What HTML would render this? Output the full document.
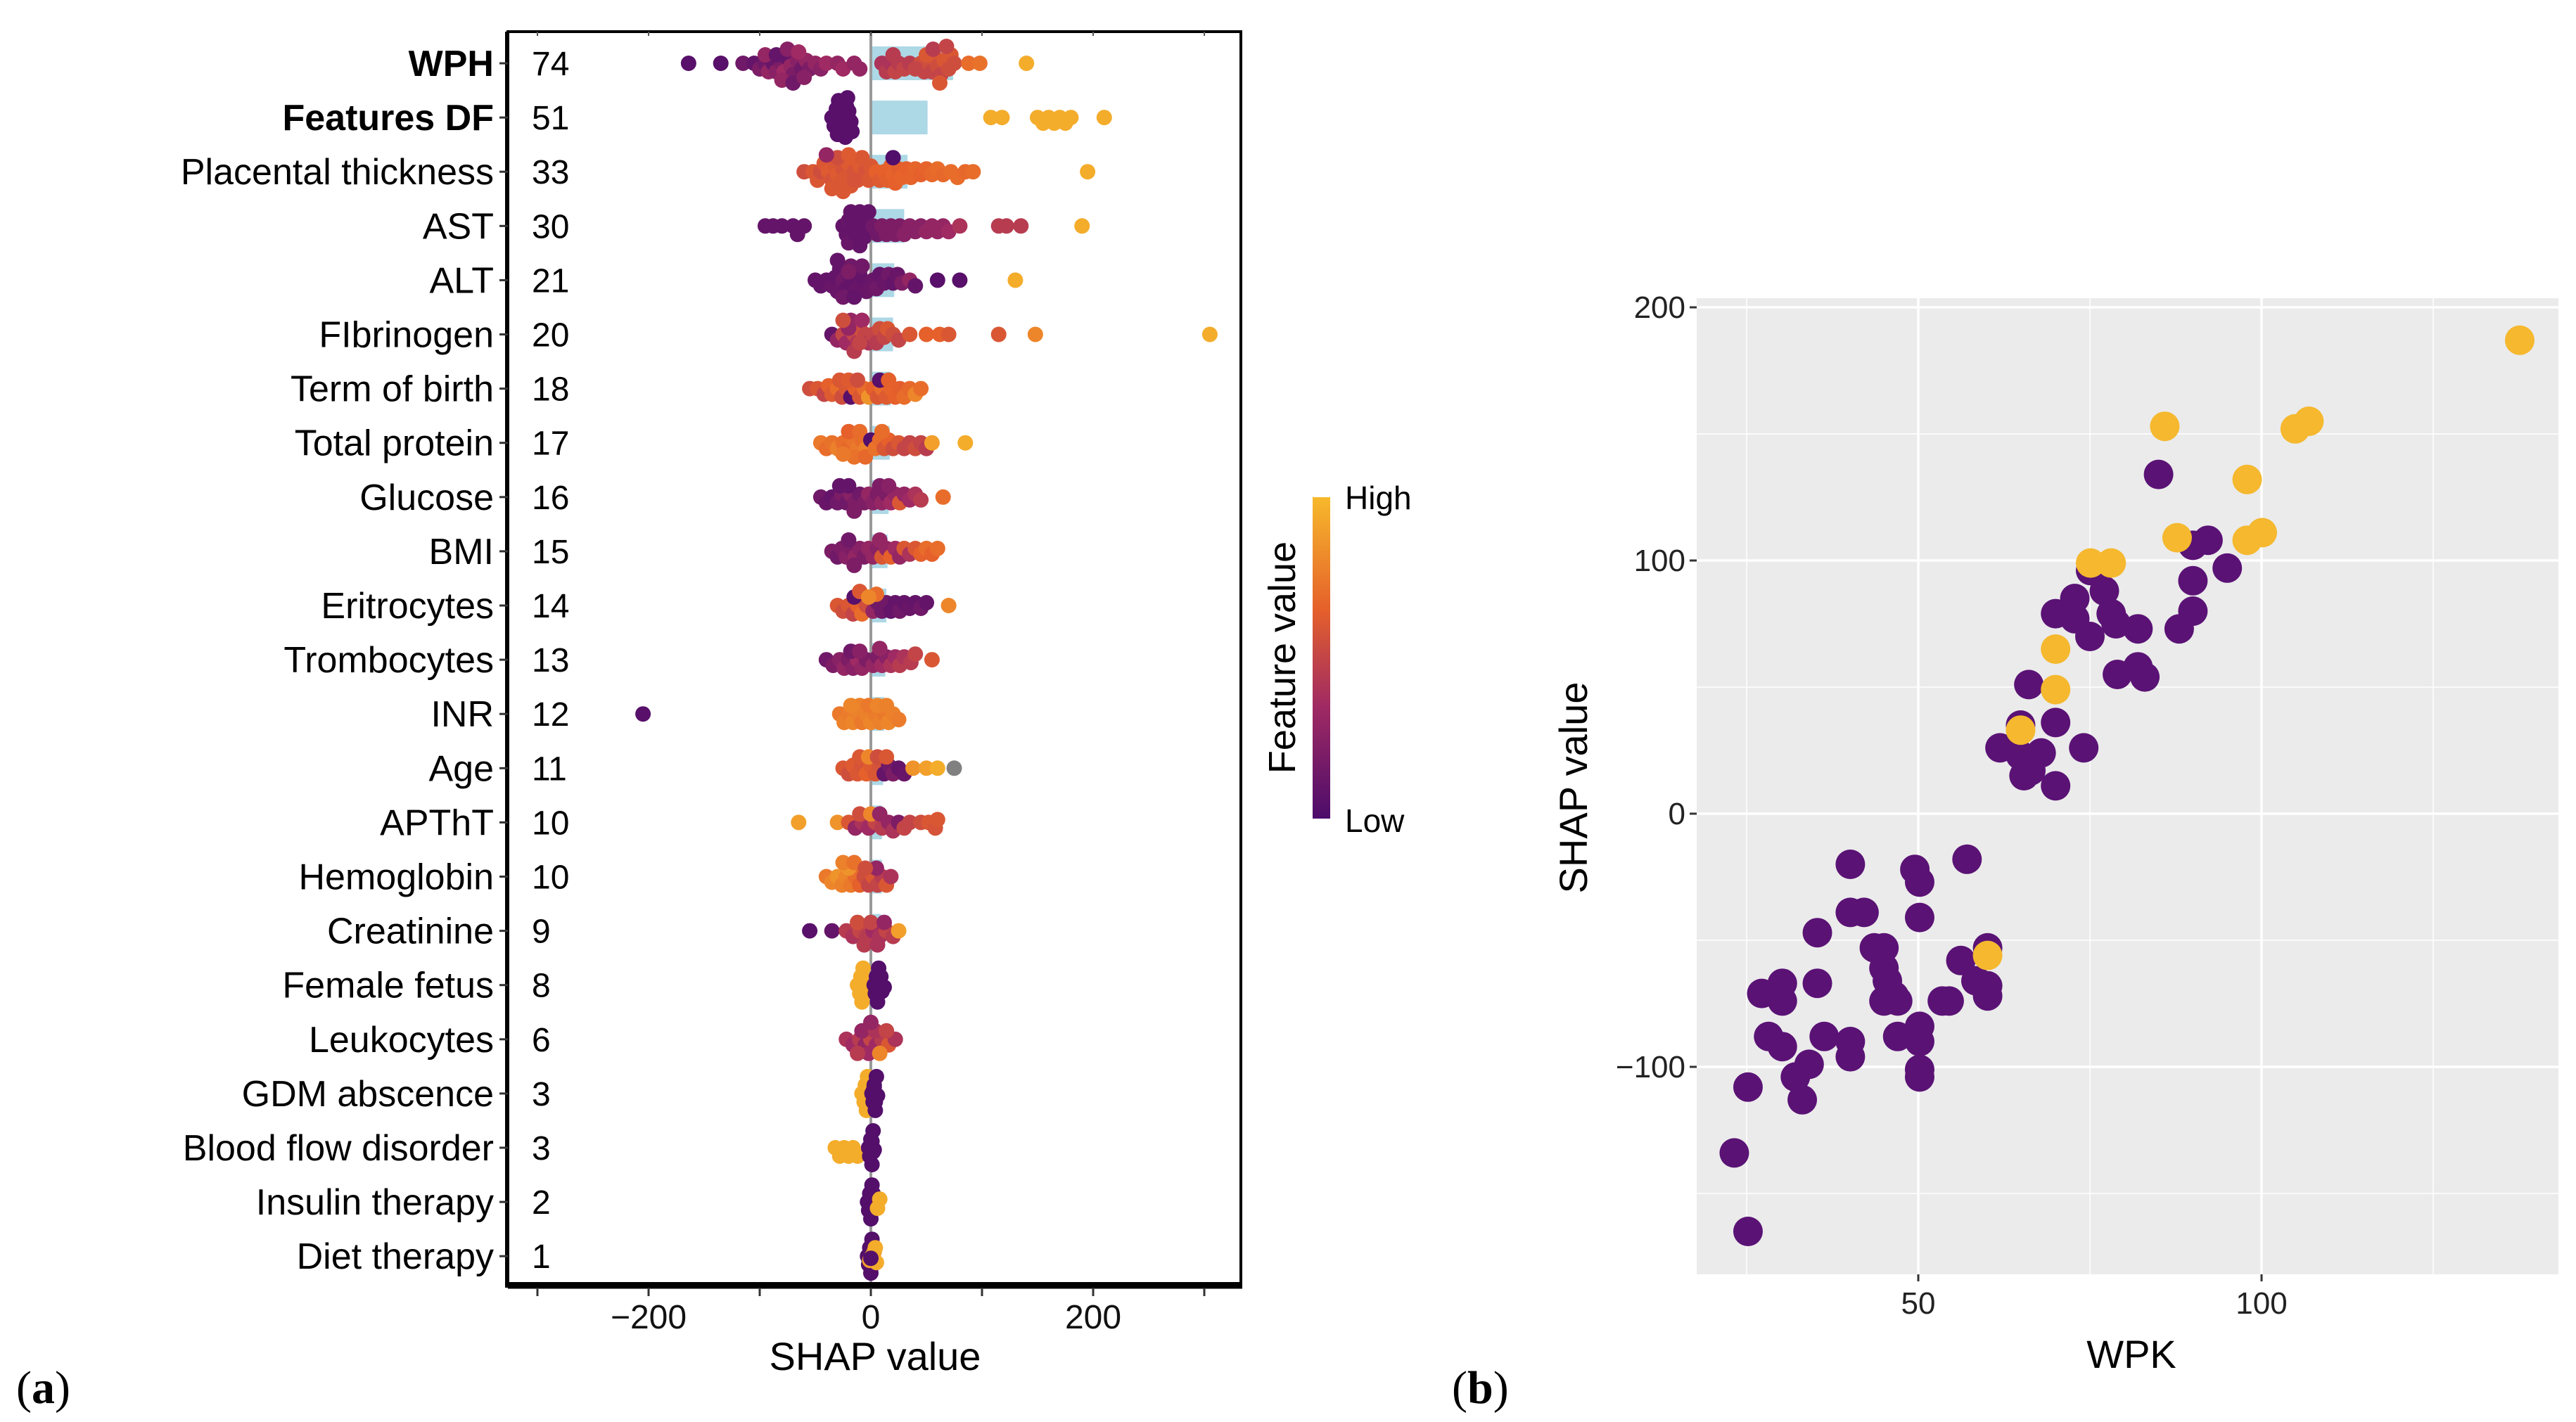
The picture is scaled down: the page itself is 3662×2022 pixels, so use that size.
<!DOCTYPE html>
<html><head><meta charset="utf-8">
<style>
html,body{margin:0;padding:0;background:#fff;}
svg{display:block;font-family:"Liberation Sans",Arial,sans-serif;}
</style></head>
<body>
<svg id="fig" width="3662" height="2022" viewBox="0 0 3662 2022" xmlns="http://www.w3.org/2000/svg">
<defs>
<linearGradient id="cbar" x1="0" y1="1" x2="0" y2="0">
<stop offset="0" stop-color="#4c0c6b"/><stop offset="0.35" stop-color="#a02a63"/>
<stop offset="0.65" stop-color="#e5602b"/><stop offset="1" stop-color="#f7b92b"/>
</linearGradient>
</defs>
<g id="left"></g>
<g id="right"></g>
<text x="23" y="1995" font-family="Liberation Serif, serif" font-size="66">(<tspan font-weight="bold">a</tspan>)</text>
<text x="2064" y="1995" font-family="Liberation Serif, serif" font-size="66">(<tspan font-weight="bold">b</tspan>)</text>
</svg>
<script>
// ---------- Left panel data ----------
const features = ["WPH","Features DF","Placental thickness","AST","ALT","FIbrinogen","Term of birth","Total protein","Glucose","BMI","Eritrocytes","Trombocytes","INR","Age","APThT","Hemoglobin","Creatinine","Female fetus","Leukocytes","GDM abscence","Blood flow disorder","Insulin therapy","Diet therapy"];
const importance = [74,51,33,30,21,20,18,17,16,15,14,13,12,11,10,10,9,8,6,3,3,2,1];
const boldRows = [0,1];
// each row: shap values and matching feature values (0 low .. 1 high, -1 = missing)
const shapVals = [
 [-164,-135,-115,-105,-100,-95,-92,-88,-85,-80,-78,-75,-72,-70,-66,-62,-58,-55,-50,-45,-40,-30,-25,-15,-10,-95,-85,-75,-65,-80,-70,-60,10,14,18,22,25,30,35,45,48,52,55,58,60,63,66,70,72,75,50,56,62,68,40,20,88,98,140],
 [-35,-33,-31,-30,-29,-28,-27,-26,-25,-24,-23,-22,-21,-20,-19,-18,-17,-30,-26,-22,-28,-24,-20,108,118,150,155,160,165,170,175,180,210],
 [-60,-52,-48,-45,-42,-38,-35,-32,-30,-28,-25,-22,-20,-18,-15,-12,-10,-8,-5,-2,-30,-25,-20,-15,-35,-40,0,5,8,12,15,18,20,22,25,28,32,36,40,45,50,55,60,65,72,78,85,92,20,195],
 [-95,-88,-80,-70,-66,-60,-25,-22,-20,-18,-16,-14,-12,-10,-8,-6,-4,-2,-20,-15,-10,-12,-18,-5,2,6,10,14,18,22,26,30,35,40,45,50,55,60,65,70,80,115,122,135,190],
 [-50,-45,-40,-35,-32,-30,-28,-25,-22,-20,-18,-15,-12,-10,-8,-6,-4,-25,-20,-15,-30,2,5,8,12,16,20,24,28,35,40,60,80,130],
 [-35,-30,-25,-22,-20,-18,-15,-12,-10,-8,-5,-2,-15,-20,-10,-25,2,5,8,12,15,20,25,35,50,62,70,115,148,305],
 [-55,-48,-42,-38,-35,-30,-26,-22,-18,-14,-10,-6,-2,-28,-20,-12,2,6,10,14,18,22,26,30,35,40,45,8,16],
 [-45,-40,-35,-30,-25,-20,-16,-12,-8,-4,-20,-15,-10,-25,-5,0,4,8,12,16,20,25,30,35,40,45,50,10,55,85],
 [-45,-40,-35,-30,-26,-22,-18,-14,-10,-6,-2,-20,-15,-28,2,6,10,14,18,22,26,30,35,40,45,8,16,65],
 [-35,-30,-26,-22,-18,-14,-10,-6,-2,-20,-15,2,6,10,14,18,22,26,30,35,40,45,50,55,60,8],
 [-30,-25,-20,-16,-12,-8,-4,-15,-10,2,6,10,14,18,22,26,30,35,40,45,50,5,-2,70],
 [-40,-34,-28,-24,-20,-16,-12,-8,-4,-18,-10,2,6,10,14,18,22,26,30,36,40,8,55],
 [-205,-28,-24,-20,-16,-12,-8,-4,0,4,8,12,16,20,25,-10,-2,6,14,-18],
 [-25,-20,-16,-12,-8,-4,0,4,8,12,16,20,-10,-2,6,14,25,30,38,50,60,75],
 [-65,-30,-20,-14,-8,-2,4,10,16,-10,0,8,20,25,30,35,45,52,58,60],
 [-40,-35,-30,-26,-22,-18,-14,-10,-6,-2,-20,-25,-15,2,6,10,14,18,5,-5],
 [-55,-35,-22,-16,-10,-4,2,8,14,-12,-6,0,6,12,20,25],
 [-12,-10,-9,-8,-7,-6,-5,-4,-3,-8,-6,-10,3,4,5,6,7,8,9,10,12,5,7],
 [-22,-16,-10,-5,0,5,10,16,22,-8,-2,4,8,0,-12,14],
 [-8,-6,-5,-4,-3,-6,1,2,3,4,5,6,2,3,4],
 [-32,-28,-24,-20,-16,-12,-2,-1,0,1,2,3,0,1,-1,2],
 [-3,-2,-1,0,1,2,3,-2,0,2,6,8],
 [-3,-2,-1,0,1,2,-1,1,3,4,5,0]
];
const featVals = [
 [.05,.05,.15,.1,.2,.15,.3,.12,.25,.2,.35,.1,.3,.2,.25,.15,.3,.2,.3,.25,.35,.3,.35,.3,.3,.3,.1,.25,.35,.3,.15,.25,.4,.45,.4,.5,.45,.5,.45,.55,.5,.55,.5,.6,.55,.5,.6,.55,.6,.55,.6,.45,.6,.5,.5,.45,.7,.72,.95],
 [.05,.05,.05,.05,.05,.05,.05,.05,.05,.05,.05,.05,.05,.05,.05,.05,.05,.05,.05,.05,.05,.05,.05,.95,.95,.95,.95,.95,.95,.95,.95,.95,.95],
 [.55,.6,.6,.55,.6,.62,.58,.6,.62,.6,.58,.6,.62,.6,.58,.6,.62,.6,.58,.6,.55,.6,.62,.58,.6,.3,.6,.65,.62,.65,.64,.65,.66,.65,.64,.66,.65,.66,.67,.65,.66,.68,.7,.68,.7,.7,.68,.7,.02,.95],
 [.1,.1,.1,.1,.1,.1,.1,.1,.12,.1,.1,.12,.1,.1,.12,.1,.1,.1,.12,.1,.1,.1,.1,.1,.15,.15,.2,.2,.2,.2,.2,.25,.25,.25,.25,.3,.3,.3,.3,.35,.4,.45,.45,.45,.95],
 [.1,.1,.1,.12,.1,.12,.1,.15,.1,.12,.15,.1,.12,.1,.15,.1,.12,.15,.2,.1,.1,.12,.15,.1,.12,.15,.1,.12,.2,.3,.1,.05,.05,.95],
 [.1,.3,.5,.35,.45,.3,.5,.4,.55,.35,.5,.4,.45,.3,.5,.55,.5,.45,.55,.5,.6,.55,.5,.6,.65,.65,.6,.6,.8,.95],
 [.55,.6,.5,.65,.62,.7,.55,.6,.05,.65,.6,.7,.85,.6,.62,.55,.65,.6,.7,.62,.66,.65,.64,.7,.68,.8,.7,.05,.65],
 [.75,.7,.72,.78,.7,.68,.72,.75,.7,.78,.65,.72,.7,.75,.68,.02,.72,.7,.6,.65,.55,.6,.5,.5,.55,.5,.45,.7,.9,.95],
 [.15,.12,.1,.15,.2,.15,.25,.2,.15,.2,.3,.1,.2,.1,.25,.2,.3,.2,.35,.3,.6,.3,.35,.4,.45,.2,.25,.7],
 [.2,.15,.2,.25,.2,.3,.25,.2,.3,.15,.2,.3,.25,.6,.3,.65,.35,.3,.6,.4,.6,.65,.7,.65,.7,.3],
 [.6,.55,.6,.5,.65,.7,.55,.05,.6,.3,.15,.15,.15,.1,.1,.15,.1,.12,.1,.15,.1,.7,.8,.8],
 [.15,.2,.25,.3,.2,.25,.35,.3,.2,.15,.25,.3,.2,.35,.25,.4,.35,.45,.4,.45,.5,.3,.6],
 [.05,.75,.78,.76,.8,.78,.75,.78,.8,.76,.78,.75,.8,.78,.76,.78,.75,.8,.78,.8],
 [.6,.55,.62,.6,.58,.65,.62,.6,.58,.1,.15,.2,.6,.8,.55,.6,.1,.12,.85,.9,.95,-1],
 [.9,.85,.6,.3,.4,.35,.5,.45,.3,.55,.8,.3,.4,.2,.5,.5,.55,.6,.58,.6],
 [.75,.8,.85,.78,.8,.75,.7,.65,.55,.5,.85,.78,.72,.6,.5,.45,.6,.4,.3,.55],
 [.05,.1,.45,.4,.5,.45,.35,.4,.5,.55,.45,.5,.4,.3,.45,.9],
 [.95,.95,.95,.95,.95,.95,.95,.95,.95,.95,.95,.95,.03,.03,.03,.03,.03,.03,.03,.03,.03,.03,.03],
 [.4,.35,.45,.3,.5,.35,.45,.6,.4,.3,.35,.4,.8,.3,.45,.5],
 [.95,.95,.95,.95,.95,.95,.03,.03,.03,.03,.03,.03,.03,.03,.03],
 [.95,.95,.95,.95,.95,.95,.03,.03,.03,.03,.03,.03,.03,.03,.03,.03],
 [.03,.03,.03,.03,.03,.03,.03,.03,.03,.03,.95,.95],
 [.03,.03,.03,.03,.03,.03,.9,.9,.9,.95,.95,.03]
];
const leftTicks = [-300,-200,-100,0,100,200,300];
const leftTickLabels = ["","\u2212200","","0","","200",""];
// ---------- Right panel data ----------
const wpk = [23.2,25.2,25.2,27.2,30.2,30.2,28.2,30.2,32.1,33.1,34.1,35.3,35.3,36.3,40.1,40.1,42.1,40.1,40.1,43.6,45.0,45.0,45.5,46.5,45.0,47.0,47.0,49.5,50.2,50.2,50.2,50.2,50.2,50.2,53.5,54.5,56.2,57.1,58.4,60.1,60.1,60.1,61.9,64.9,66.1,64.9,65.4,66.4,67.9,70.0,70.0,70.0,72.8,72.8,74.1,75.0,75.1,77.1,78.1,78.8,79.0,82.0,82.0,83.0,85.0,88.0,90.0,90.0,90.0,92.2,95.0,
 85.9,75.1,78.1,70.0,70.0,64.9,60.1,87.7,97.9,97.9,100.1,104.9,106.9,137.6];
const shapWpk = [-134,-165,-108,-71,-67,-74,-88,-92,-104,-113,-99,-47,-67,-88,-20,-39,-39,-90,-96,-53,-53,-61,-66,-72,-74,-74,-88,-22,-27,-41,-84,-90,-101,-104,-74,-74,-58,-18,-66,-53,-72,-68,26,35,51,23,15,17,24,36,11,79,85,77,26,70,96,88,79,75,55,73,58,54,134,73,80,92,106,108,97,
 153,99,99,65,49,33,-56,109,132,108,111,152,155,187];
const wpkHigh = [0,0,0,0,0,0,0,0,0,0,0,0,0,0,0,0,0,0,0,0,0,0,0,0,0,0,0,0,0,0,0,0,0,0,0,0,0,0,0,0,0,0,0,0,0,0,0,0,0,0,0,0,0,0,0,0,0,0,0,0,0,0,0,0,0,0,0,0,0,0,0,
 1,1,1,1,1,1,1,1,1,1,1,1,1,1];
const rxTicks = [50,100];
const rxMinor = [25,75,125];
const ryTicks = [-100,0,100,200];
const ryMinor = [-150,-50,50,150];

const NS = "http://www.w3.org/2000/svg";
function mk(parent, tag, attrs, text){
  const e = document.createElementNS(NS, tag);
  for (const k in attrs) e.setAttribute(k, attrs[k]);
  if (text !== undefined) e.textContent = text;
  parent.appendChild(e);
  return e;
}
const stops = [[0,[76,12,107]],[0.35,[160,42,99]],[0.65,[229,96,43]],[1,[247,185,43]]];
function colorOf(f){
  if (f < 0) return "#808080";
  for (let i=1;i<stops.length;i++){
    if (f <= stops[i][0]){
      const a=stops[i-1], b=stops[i], t=(f-a[0])/(b[0]-a[0]);
      const c=a[1].map((v,j)=>Math.round(v+(b[1][j]-v)*t));
      return "rgb("+c.join(",")+")";
    }
  }
  return "rgb(247,185,43)";
}

// ---------- Left panel ----------
const L = document.getElementById("left");
const fx0 = 722, fx1 = 1764, fy0 = 45, fy1 = 1825;
const zeroX = 1238, pxPerUnit = 1.58;
const lx = v => zeroX + v*pxPerUnit;
const rowY = i => 90 + i*77.1;

importance.forEach((v,i)=>{
  const b = mk(L,"rect",{x:lx(0),y:rowY(i)-24,width:lx(v)-lx(0),height:48,fill:"#add8e6"});
  
  
});
const zl = mk(L,"line",{x1:lx(0),x2:lx(0),y1:fy0,y2:fy1,stroke:"#999","stroke-width":4});



const R = 11;
shapVals.forEach((vals,i)=>{
  const g = mk(L,"g",{});
  
  
  const placed = [];
  const cy0 = rowY(i);
  vals.forEach((v,k)=>{
    const cx = lx(v);
    let off = null;
    for (let s=0;s<18;s++){
      const cand = (s%2===1?1:-1)*Math.ceil(s/2)*4;
      if (Math.abs(cand) > 30) break;
      const ok = placed.every(p=>Math.hypot(p[0]-cx,p[1]-cand) >= R*1.0);
      if (ok){ off = cand; break; }
    }
    if (off === null) off = ((k*7)%9-4)*3;
    placed.push([cx,off]);
    const c = mk(g,"circle",{cx:cx,cy:cy0+off,r:R,fill:colorOf(featVals[i][k])});
    
    
  });
});

const fr = mk(L,"rect",{x:fx0,y:fy0,width:fx1-fx0,height:fy1-fy0,fill:"none",stroke:"#000","stroke-width":4});


const fb = mk(L,"line",{x1:fx0,x2:fx1+2,y1:fy1+3,y2:fy1+3,stroke:"#000","stroke-width":9});


const fl = mk(L,"line",{x1:fx0-1,x2:fx0-1,y1:fy0,y2:fy1+6,stroke:"#000","stroke-width":6});



features.forEach((f,i)=>{
  const t = mk(L,"text",{x:702,y:rowY(i)+18,"text-anchor":"end","font-size":52,"font-weight":boldRows.includes(i)?"bold":"normal",fill:"#000"},f);
  
  
  const n = mk(L,"text",{x:756,y:rowY(i)+17,"font-size":48,fill:"#000"},String(importance[i]));
  
  
  const tk = mk(L,"line",{x1:fx0-12,x2:fx0,y1:rowY(i),y2:rowY(i),stroke:"#333","stroke-width":3});
  
  
});
leftTicks.forEach((v,k)=>{
  const t1 = mk(L,"line",{x1:lx(v),x2:lx(v),y1:fy1+6,y2:fy1+18,stroke:"#333","stroke-width":3});
  
  
  const t2 = mk(L,"line",{x1:lx(v),x2:lx(v),y1:fy0,y2:fy0+6,stroke:"#555","stroke-width":2});
  
  
  if (leftTickLabels[k]){
    const tl = mk(L,"text",{x:lx(v),y:1889,"text-anchor":"middle","font-size":48,fill:"#111"},leftTickLabels[k]);
    
    
  }
});
const xt = mk(L,"text",{x:1244,y:1948,"text-anchor":"middle","font-size":56,fill:"#000"},"SHAP value");



const cb = mk(L,"rect",{x:1866,y:707,width:25,height:457,fill:"url(#cbar)"});


const hi = mk(L,"text",{x:1912,y:724,"font-size":46,fill:"#000"},"High");


const lo = mk(L,"text",{x:1912,y:1183,"font-size":46,fill:"#000"},"Low");


const fv = mk(L,"text",{x:0,y:0,"font-size":54,"text-anchor":"middle",fill:"#000",transform:"translate(1841,935) rotate(-90)"},"Feature value");



// ---------- Right panel ----------
const G = document.getElementById("right");
const px0=2412, px1=3637, py0=424, py1=1812;
const rx = v => 2727 + (v-50)*9.76;
const ry = v => 1157 - v*3.6;
const bg = mk(G,"rect",{x:px0,y:py0,width:px1-px0,height:py1-py0,fill:"#ebebeb"});


rxMinor.forEach(v=>{
  const l = mk(G,"line",{x1:rx(v),x2:rx(v),y1:py0,y2:py1,stroke:"#fff","stroke-width":1.5});
  
  
});
ryMinor.forEach(v=>{
  const l = mk(G,"line",{x1:px0,x2:px1,y1:ry(v),y2:ry(v),stroke:"#fff","stroke-width":1.5});
  
  
});
rxTicks.forEach(v=>{
  const l = mk(G,"line",{x1:rx(v),x2:rx(v),y1:py0,y2:py1,stroke:"#fff","stroke-width":3.5});
  
  
  const t = mk(G,"line",{x1:rx(v),x2:rx(v),y1:py1,y2:py1+10,stroke:"#333","stroke-width":3});
  
  
  const tl = mk(G,"text",{x:rx(v),y:py1+56,"text-anchor":"middle","font-size":44,fill:"#222"},String(v));
  
  
});
ryTicks.forEach(v=>{
  const l = mk(G,"line",{x1:px0,x2:px1,y1:ry(v),y2:ry(v),stroke:"#fff","stroke-width":3.5});
  
  
  const t = mk(G,"line",{x1:px0-10,x2:px0,y1:ry(v),y2:ry(v),stroke:"#333","stroke-width":3});
  
  
  const tl = mk(G,"text",{x:px0-16,y:ry(v)+15,"text-anchor":"end","font-size":44,fill:"#222"},v<0?"\u2212"+(-v):String(v));
  
  
});
wpk.forEach((x,i)=>{
  const c = mk(G,"circle",{cx:rx(x),cy:ry(shapWpk[i]),r:21,fill:wpkHigh[i]?"#f5b82e":"#5a1275"});
  
  
});
const rxt = mk(G,"text",{x:3030,y:1945,"text-anchor":"middle","font-size":56,fill:"#000"},"WPK");


const ryt = mk(G,"text",{x:0,y:0,"text-anchor":"middle","font-size":56,fill:"#000",transform:"translate(2256,1120) rotate(-90)"},"SHAP value");


</script>
</body></html>
